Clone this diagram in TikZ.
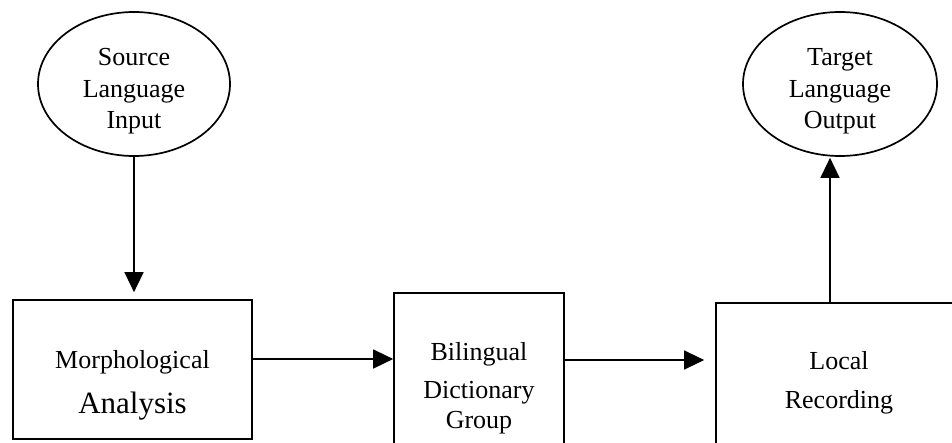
\documentclass[tikz,border=0pt]{standalone}
\usepackage{fontspec}
\setmainfont{Liberation Serif}
\usetikzlibrary{shapes.geometric,arrows.meta}

\begin{document}
\begin{tikzpicture}[x=1pt, y=-1pt, line width=1.7pt,
		blob/.style={draw, ellipse, inner sep=0pt, align=center, font=\fontsize{26}{31.5}\selectfont},
		box/.style={draw, rectangle, inner sep=0pt, align=center, font=\fontsize{26}{31}\selectfont},
		arr/.style={-{Triangle[length=20pt,width=19pt]}, line width=1.5pt}]
		\useasboundingbox (0,0) rectangle (952,442);
		\clip (0,0) rectangle (952,442);

		\node[blob, minimum width=192pt, minimum height=144pt] (src) at (134,84) {\rule{0pt}{32pt}Source\\Language\\Input};
		\node[blob, minimum width=194pt, minimum height=144pt] (tgt) at (840,84) {\rule{0pt}{32pt}Target\\Language\\Output};

		\node[box, minimum width=239pt, minimum height=139pt] (morph) at (132.5,369.5) {\rule{0pt}{49pt}Morphological\\[14pt]{\fontsize{31}{31}\selectfont Analysis}};
		\node[box, minimum width=170pt, minimum height=190pt] (bil) at (479,388) {Bilingual\\[7pt]Dictionary\\[-1pt]Group};
		\node[box, minimum width=246pt, minimum height=160pt] (loc) at (839,383) {Local\\[8pt]Recording};

		\draw[arr, shorten >=7pt] (src.south -| 134,0) to node {} (morph.north -| 134,0);
		\draw[arr] (morph.east |- 0,359) to node {} (bil.west |- 0,359);
		\draw[arr, shorten >=11pt] (bil.east |- 0,360) to node {} (loc.west |- 0,360);
		\draw[arr, shorten >=1pt] (loc.north -| 830,0) to node {} (tgt.south -| 830,0);

	\end{tikzpicture}
\end{document}
